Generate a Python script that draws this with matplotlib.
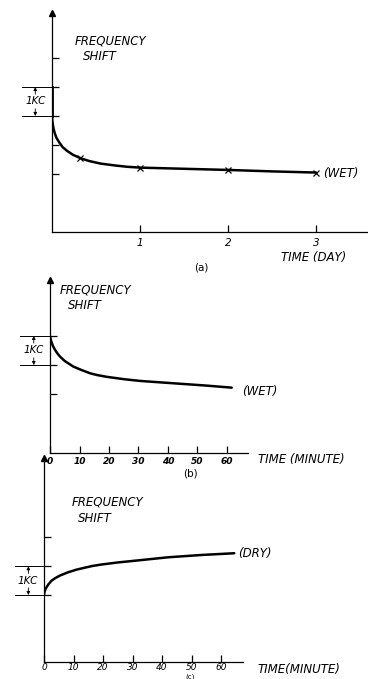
import matplotlib
matplotlib.use('Agg')
import matplotlib.pyplot as plt

W, H = 368, 679

# (a) frequency shift vs time in days, wet
a_days = [0, 0.005, 0.015, 0.03, 0.05, 0.08, 0.12, 0.17, 0.24, 0.32, 0.42,
          0.55, 0.7, 0.85, 1.0, 1.5, 2.0, 2.5, 3.0]
a_shift = [4.0, 3.8, 3.6, 3.42, 3.25, 3.1, 2.93, 2.8, 2.66, 2.55, 2.45,
           2.36, 2.3, 2.25, 2.22, 2.18, 2.14, 2.09, 2.05]
a_mark_days = [0.32, 1, 2, 3]
a_mark_shift = [2.55, 2.22, 2.14, 2.05]
a_xticks = [1, 2, 3]
a_yticks = [2, 3, 4, 5, 6]

# (b) frequency shift vs time in minutes, wet
b_min = [0, 0.3, 1, 1.7, 2.5, 3.4, 5, 7.9, 10.5, 13.6, 16, 19.2, 25, 30.5,
         41.8, 53.1, 61.6]
b_shift = [3.99, 3.85, 3.65, 3.52, 3.4, 3.29, 3.14, 2.95, 2.84, 2.72, 2.66,
           2.60, 2.52, 2.46, 2.38, 2.30, 2.23]
b_yticks = [2, 3, 4]

# (c) frequency shift vs time in minutes, dry (relative to start)
c_min = [0, 0.2, 0.6, 1.5, 2.5, 3.7, 5.5, 8.2, 11, 13.9, 16.5, 19.6, 25,
         30.8, 42.1, 53.5, 64.5]
c_shift = [0, 0.12, 0.23, 0.37, 0.49, 0.58, 0.68, 0.79, 0.88, 0.95, 1.01,
           1.06, 1.13, 1.19, 1.31, 1.39, 1.45]
c_yticks = [0, 1, 2]

min_ticks = [0, 10, 20, 30, 40, 50, 60]

FONT = dict(style='italic', family='DejaVu Sans', color='black')


def px_axes(left, top, right, bottom):
    return [left / W, 1 - bottom / H, (right - left) / W, (bottom - top) / H]


def fx(x):
    return x / W


def fy(y):
    return 1 - y / H


def style(ax, xlim, ylim, yticks):
    ax.set_xlim(*xlim)
    ax.set_ylim(*ylim)
    for s in ('top', 'right'):
        ax.spines[s].set_visible(False)
    for s in ('left', 'bottom'):
        ax.spines[s].set_linewidth(0.9)
    ax.set_yticks(yticks)
    ax.set_yticklabels([])
    ax.tick_params(direction='in', length=5, width=0.9, pad=2)
    ax.set_facecolor('none')
    # arrow head on y axis
    ax.plot(0, 1, marker='^', ms=4, color='black',
            transform=ax.get_xaxis_transform(), clip_on=False)


def bracket(ax, x0, lo, hi, xa):
    for y in (lo, hi):
        ax.plot([x0, 0], [y, y], color='black', lw=0.7, clip_on=False)
    span = hi - lo
    ax.annotate('', xy=(xa, hi), xytext=(xa, hi - 0.25 * span),
                arrowprops=dict(arrowstyle='-|>', lw=0.6, color='black',
                                mutation_scale=5, shrinkA=0, shrinkB=0),
                annotation_clip=False)
    ax.annotate('', xy=(xa, lo), xytext=(xa, lo + 0.25 * span),
                arrowprops=dict(arrowstyle='-|>', lw=0.6, color='black',
                                mutation_scale=5, shrinkA=0, shrinkB=0),
                annotation_clip=False)
    ax.text(x0 * 0.55, (lo + hi) / 2, '1KC', ha='center', va='center',
            fontsize=7.5, clip_on=False, **FONT)


fig = plt.figure(figsize=(W / 100, H / 100), dpi=100)
fig.patch.set_facecolor('white')

# ---- (a)
ax = fig.add_axes(px_axes(52, 13, 368, 232))
style(ax, (0, 316 / 88 + 0.001), (0, 219 / 29), a_yticks)
ax.plot(a_days, a_shift, color='black', lw=1.8, solid_capstyle='round',
        solid_joinstyle='round')
ax.plot(a_mark_days, a_mark_shift, 'x', color='black', ms=4, mew=0.9)
ax.plot([0, 0], [4, 5], color='black', lw=2)
ax.set_xticks(a_xticks)
ax.set_xticklabels([str(t) for t in a_xticks], fontsize=7.5, style='italic')
ax.tick_params(axis='x', pad=4)
bracket(ax, -0.34, 4, 5, -0.19)

fig.text(fx(75), fy(41), 'FREQUENCY', fontsize=8.5, va='center', **FONT)
fig.text(fx(83), fy(57), 'SHIFT', fontsize=8.5, va='center', **FONT)
fig.text(fx(323), fy(173), '(WET)', fontsize=8.5, va='center', **FONT)
fig.text(fx(281), fy(258), 'TIME (DAY)', fontsize=8.5, va='center', **FONT)
fig.text(fx(201), fy(268), '(a)', fontsize=7.5, ha='center', va='center',
         family='DejaVu Sans')

# ---- (b)
ax = fig.add_axes(px_axes(50, 280, 248, 453))
style(ax, (0, 198 / 2.95), (0, 173 / 29.3), b_yticks)
ax.plot(b_min, b_shift, color='black', lw=1.8, solid_capstyle='round',
        solid_joinstyle='round')
ax.set_xticks(min_ticks)
ax.set_xticklabels([str(t) for t in min_ticks], fontsize=6.5, style='italic',
                   weight='bold')
ax.tick_params(axis='x', pad=3)
bracket(ax, -10.2, 3, 4, -5.5)

fig.text(fx(60), fy(290), 'FREQUENCY', fontsize=8.5, va='center', **FONT)
fig.text(fx(68), fy(306), 'SHIFT', fontsize=8.5, va='center', **FONT)
fig.text(fx(242), fy(392), '(WET)', fontsize=8.5, va='center', **FONT)
fig.text(fx(258), fy(460), 'TIME (MINUTE)', fontsize=8.5, va='center', **FONT)
fig.text(fx(190), fy(473), '(b)', fontsize=7.5, ha='center', va='center',
         family='DejaVu Sans')

# ---- (c)
ax = fig.add_axes(px_axes(44, 458, 243, 662))
style(ax, (0, 199 / 2.95), (-67 / 28.8, 137 / 28.8), c_yticks)
ax.plot(c_min, c_shift, color='black', lw=1.8, solid_capstyle='round',
        solid_joinstyle='round')
ax.set_xticks(min_ticks)
ax.set_xticklabels([str(t) for t in min_ticks], fontsize=6.5, style='italic')
ax.tick_params(axis='x', pad=0.5)
bracket(ax, -9.8, 0, 1, -5.3)

fig.text(fx(72), fy(502), 'FREQUENCY', fontsize=8.5, va='center', **FONT)
fig.text(fx(78), fy(518), 'SHIFT', fontsize=8.5, va='center', **FONT)
fig.text(fx(238), fy(554), '(DRY)', fontsize=8.5, va='center', **FONT)
fig.text(fx(258), fy(669), 'TIME(MINUTE)', fontsize=8.5, va='center', **FONT)
fig.text(fx(190), fy(679.5), '(c)', fontsize=5, ha='center', va='bottom',
         family='DejaVu Sans')

fig.savefig('out.png', dpi=100)
